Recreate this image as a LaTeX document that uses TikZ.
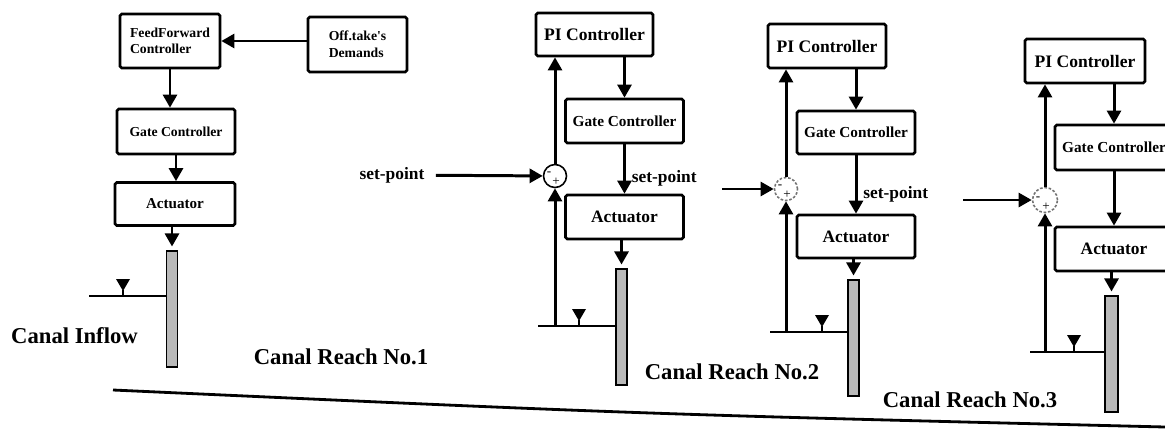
\documentclass[tikz,border=0pt]{standalone}
\usepackage{fontspec}
\setmainfont{Liberation Serif}
\usetikzlibrary{arrows.meta,positioning}

\begin{document}
\begin{tikzpicture}[
  x=0.02cm, y=-0.02cm,
  box/.style={
    draw, line width=1.5pt,
    rounded corners=1pt,
    align=center, inner sep=1pt,
    minimum width=2.36cm,
    minimum height=0.88cm
  },
  ffbox/.style={box, align=left,
    font=\fontsize{7.8}{9.4}\selectfont\bfseries},
  ctrl/.style={box,
    font=\fontsize{10}{12}\selectfont\bfseries},
  gatebox/.style={box,
    font=\fontsize{8.7}{10}\selectfont\bfseries},
  actbox/.style={box,
    font=\fontsize{9.9}{12}\selectfont\bfseries},
  plate/.style={
    draw, line width=1.1pt, fill=gray!55,
    minimum width=0.22cm,
    minimum height=2.32cm, inner sep=0},
  sum/.style={
    circle, draw, line width=0.9pt,
    minimum size=0.46cm, inner sep=0},
  sumdash/.style={sum, draw=black!55,
    dash pattern=on 1.5pt off 1pt},
  sgn/.style={
    font=\fontsize{7.5}{7.5}\selectfont, inner sep=0},
  arrow/.style={
    -{Triangle[length=7.5pt,width=8pt]},
    line width=1.7pt},
  level/.style={line width=1.7pt},
  note/.style={
    font=\fontsize{9.9}{12}\selectfont\bfseries},
  reach/.style={
    font=\fontsize{12.9}{15}\selectfont\bfseries}
]
\clip (0,0) rectangle (1165,429);

% inflow: feedforward control
\node[ffbox, minimum width=2.0cm, minimum height=1.08cm] (ff)
  at (170,41) {FeedForward\\Controller};
\node[ffbox, minimum width=1.98cm, minimum height=1.1cm] (dem)
  at (357.5,44.5) {Off.take\textquotesingle s\\Demands};
\node[gatebox, font=\fontsize{7.8}{9}\selectfont\bfseries,
  minimum height=0.9cm] (gate1) at (176,131.5) {Gate Controller};
\node[actbox, font=\fontsize{8.6}{10}\selectfont\bfseries,
  minimum width=2.4cm, minimum height=0.86cm] (act1)
  at (175,204) {Actuator};
\node[plate] (plate1) at (172,309) {};
\coordinate (wl1) at (89,296);

\draw[level] (wl1) -- (wl1 -| plate1.west);
\draw[arrow] (ff -| dem.west) -- (ff.east);
\draw[arrow] (ff) -- (ff |- gate1.north);
\draw[arrow] (gate1) -- (gate1 |- act1.north);
\draw[arrow, shorten >=2pt] (act1.south -| plate1) -- (plate1);

% reach 1: PI control
\node[ctrl, minimum width=2.34cm, minimum height=0.86cm] (pi2)
  at (594.5,34.5) {PI Controller};
\node[gatebox] (gate2) at (624.5,121) {Gate Controller};
\node[actbox] (act2) at (624.5,217) {Actuator};
\node[plate] (plate2) at (621.5,327) {};
\node[sum] (sum2) at (555,176) {};
\node[sgn] (minus2) at (549,174) {-};
\node[sgn] (plus2) at (556,182) {+};
\node[note] (sp2) at (392,175) {set-point};
\coordinate (wl2) at (538,326);
\coordinate (fb2) at (555,326);

\draw[level] (wl2) -- (wl2 -| plate2.west);
\draw[arrow, shorten <=3pt] (sp2) -- (sum2);
\draw[arrow] (fb2) -- (sum2);
\draw[arrow] (sum2) -- (sum2 |- pi2.south);
\draw[arrow] (gate2 |- pi2.south) -- (gate2);
\draw[arrow] (gate2) --
  node[note, right, pos=0.68] (spl2) {set-point} (act2);
\draw[arrow, shorten >=2pt] (act2.south -| plate2) -- (plate2);

% reach 2
\node[ctrl, minimum height=0.88cm] (pi3)
  at (827,46) {PI Controller};
\node[gatebox, minimum height=0.86cm] (gate3)
  at (856,132.5) {Gate Controller};
\node[actbox, minimum height=0.86cm] (act3)
  at (856,236.5) {Actuator};
\node[plate] (plate3) at (853.5,338) {};
\node[sumdash] (sum3) at (786,189) {};
\node[sgn] (minus3) at (780,187) {-};
\node[sgn] (plus3) at (787,195) {+};
\coordinate (in3) at (722,189);
\coordinate (wl3) at (770,332);
\coordinate (fb3) at (786,332);

\draw[level] (wl3) -- (wl3 -| plate3.west);
\draw[arrow] (in3) -- (sum3);
\draw[arrow] (fb3) -- (sum3);
\draw[arrow] (sum3) -- (sum3 |- pi3.south);
\draw[arrow] (gate3 |- pi3.south) -- (gate3);
\draw[arrow] (gate3) --
  node[note, right, pos=0.66] (spl3) {set-point} (act3);
\draw[arrow, shorten >=2pt] (act3.south -| plate3) -- (plate3);

% reach 3
\node[ctrl, minimum width=2.4cm, minimum height=0.88cm] (pi4)
  at (1085,61) {PI Controller};
\node[gatebox, minimum height=0.9cm] (gate4)
  at (1114,147.5) {Gate Controller};
\node[actbox] (act4) at (1114,249) {Actuator};
\node[plate, minimum width=0.26cm] (plate4) at (1111.5,354) {};
\node[sumdash, minimum size=0.5cm] (sum4) at (1045,200) {};
\node[sgn] (minus4) at (1038,199) {-};
\node[sgn] (plus4) at (1046,207) {+};
\coordinate (in4) at (963,200);
\coordinate (wl4) at (1030,352);
\coordinate (fb4) at (1045,352);

\draw[level] (wl4) -- (wl4 -| plate4.west);
\draw[arrow] (in4) -- (sum4);
\draw[arrow] (fb4) -- (sum4);
\draw[arrow] (sum4) -- (sum4 |- pi4.south);
\draw[arrow] (gate4 |- pi4.south) -- (gate4);
\draw[arrow] (gate4) -- (act4);
\draw[arrow, shorten >=2pt] (act4.south -| plate4) -- (plate4);

% water level marks
\foreach \lx/\ly in {123/296, 579/326, 822/332, 1074/352} {
  \fill (\lx,\ly) ++(-7,-17) -- ++(14,0) -- ++(-7,12) -- cycle;
  \draw[line width=1.2pt] (\lx,\ly) -- ++(0,-6);
}

% labels and canal bed
\node[reach] (inflow) at (74.5,336) {Canal Inflow};
\node[reach] (reach1) at (341,357) {Canal Reach No.1};
\node[reach] (reach2) at (732,372) {Canal Reach No.2};
\node[reach] (reach3) at (970,400) {Canal Reach No.3};
\draw[line width=1.6pt] (113,390) .. controls (640,414) .. (1165,427);
\end{tikzpicture}
\end{document}
